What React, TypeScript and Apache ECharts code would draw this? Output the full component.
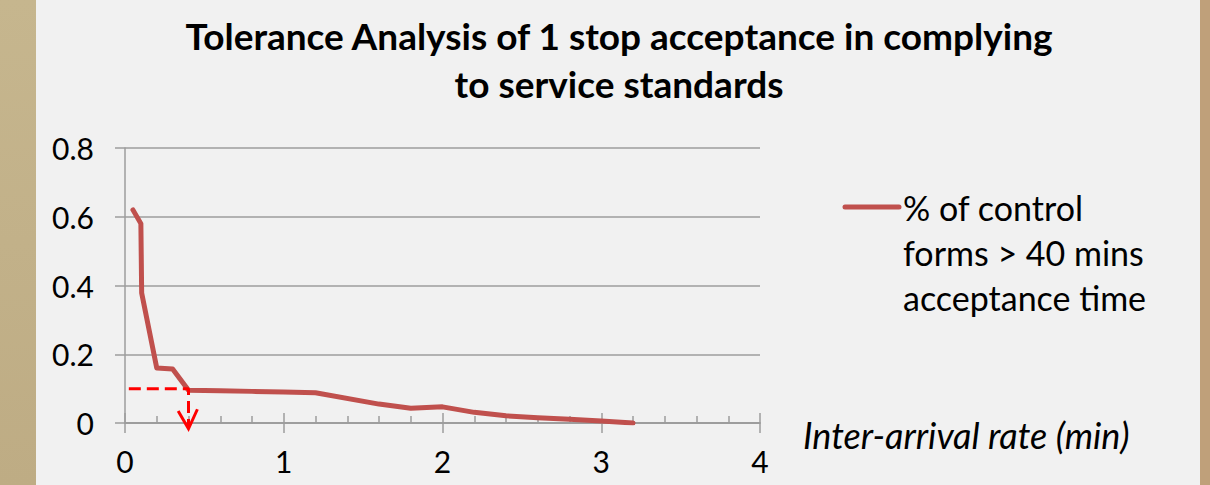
import React, { useEffect, useRef } from "react";
import * as echarts from "echarts";

const titleLines = ["Tolerance Analysis of 1 stop acceptance in complying", "to service standards"];
const seriesName = "% of control\nforms > 40 mins\nacceptance time";
const xAxisName = "Inter-arrival rate (min)";

// inter-arrival rate (min)
const xValues = [0.05, 0.1, 0.105, 0.2, 0.3, 0.4, 0.6, 0.8, 1.0, 1.2, 1.6, 1.8, 2.0, 2.2, 2.4, 2.6, 2.8, 3.0, 3.2];
// share of control forms > 40 mins
const yValues = [0.62, 0.58, 0.378, 0.16, 0.157, 0.095, 0.094, 0.092, 0.09, 0.088, 0.055, 0.043, 0.047, 0.031, 0.021, 0.015, 0.011, 0.006, 0.0];

// tolerance annotation (red dashed guide + arrow head)
const guideX = [0.024, 0.4, 0.4];
const guideY = [0.1, 0.1, -0.012];
const arrowX = [0.335, 0.4, 0.456];
const arrowY = [0.035, -0.017, 0.04];

const FONT = "Lato, 'Noto Sans', sans-serif";

export default function App() {
  const ref = useRef<HTMLDivElement>(null);
  useEffect(() => {
    if (!ref.current) return;
    const chart = echarts.init(ref.current, null, { renderer: "svg" });
    const lineData = xValues.map((x, i) => [x, yValues[i]]);
    const guideData = guideX.map((x, i) => [x, guideY[i]]);
    const arrowData = arrowX.map((x, i) => [x, arrowY[i]]);
    const grey = "#9C9C9C";
    chart.setOption({
      animation: false,
      backgroundColor: "#F1F1F1",
      textStyle: { fontFamily: FONT },
      title: {
        text: titleLines.join("\n"),
        left: 619,
        textAlign: "center",
        top: 11,
        padding: 0,
        textStyle: { fontFamily: FONT, fontWeight: "bold", fontSize: 37, color: "#000", lineHeight: 48 },
      },
      grid: { left: 125, right: 450, top: 148, bottom: 62, containLabel: false },
      xAxis: [
        {
          type: "value",
          min: 0,
          max: 4,
          interval: 1,
          name: xAxisName,
          nameLocation: "end",
          nameGap: 43,
          nameTextStyle: { fontFamily: FONT, fontStyle: "italic", fontSize: 36, color: "#000", verticalAlign: "top", padding: [0, 0, 0, 0], lineHeight: 24 },
          axisLine: { show: true, onZero: false, lineStyle: { color: grey, width: 1.5 } },
          axisTick: { show: true, inside: false, length: 10, lineStyle: { color: grey, width: 1.5 } },
          axisLabel: { fontFamily: FONT, fontSize: 30, color: "#000", margin: 23 },
          splitLine: { show: false },
        },
        {
          type: "value",
          min: 0,
          max: 4,
          interval: 1,
          position: "bottom",
          axisLine: { show: true, onZero: false, lineStyle: { color: grey, width: 1.5 } },
          axisTick: { show: true, inside: true, length: 10, lineStyle: { color: grey, width: 1.5 } },
          minorTick: { show: true, splitNumber: 5, length: 7, lineStyle: { color: grey, width: 1.5 } },
          axisLabel: { show: false },
          splitLine: { show: false },
        },
      ],
      yAxis: {
        type: "value",
        min: 0,
        max: 0.8,
        interval: 0.2,
        axisLine: { show: true, lineStyle: { color: grey, width: 1.5 } },
        axisTick: { show: true, inside: false, length: 10, lineStyle: { color: grey, width: 1.5 } },
        axisLabel: { fontFamily: FONT, fontSize: 30, color: "#000", margin: 31 },
        splitLine: { show: true, lineStyle: { color: grey, width: 1.5 } },
      },
      series: [
        {
          name: seriesName,
          type: "line",
          xAxisIndex: 0,
          data: lineData,
          showSymbol: false,
          symbol: "none",
          lineStyle: { color: "#C0504D", width: 5, cap: "round", join: "round" },
          z: 3,
        },
        {
          name: "guide",
          type: "line",
          xAxisIndex: 0,
          data: guideData,
          symbol: "none",
          clip: false,
          lineStyle: { color: "#FF0000", width: 3, type: [12, 6] },
          z: 4,
        },
        {
          name: "arrow",
          type: "line",
          xAxisIndex: 0,
          data: arrowData,
          symbol: "none",
          clip: false,
          lineStyle: { color: "#FF0000", width: 3, join: "miter" },
          z: 4,
        },
      ],
      graphic: [
        {
          type: "rect",
          shape: { x: 0, y: 0, width: 36, height: 485 },
          style: {
            fill: new echarts.graphic.LinearGradient(0, 0, 0, 1, [
              { offset: 0, color: "#C6B68E" },
              { offset: 1, color: "#BEAC84" },
            ]),
          },
          silent: true,
        },
        {
          type: "rect",
          shape: { x: 1200, y: 0, width: 10, height: 485 },
          style: { fill: "#BFA07A" },
          silent: true,
        },
        {
          type: "line",
          shape: { x1: 845, y1: 207, x2: 899, y2: 207 },
          style: { stroke: "#C0504D", lineWidth: 5, lineCap: "round" },
        },
        {
          type: "text",
          x: 903,
          y: 185,
          style: {
            text: seriesName,
            fontFamily: FONT,
            fontSize: 34,
            lineHeight: 45,
            fill: "#000",
            textAlign: "left",
            textVerticalAlign: "top",
          },
        },
      ],
    });
    return () => chart.dispose();
  }, []);
  return <div ref={ref} style={{ position: "absolute", left: 0, top: 0, width: 1210, height: 485 }} />;
}
